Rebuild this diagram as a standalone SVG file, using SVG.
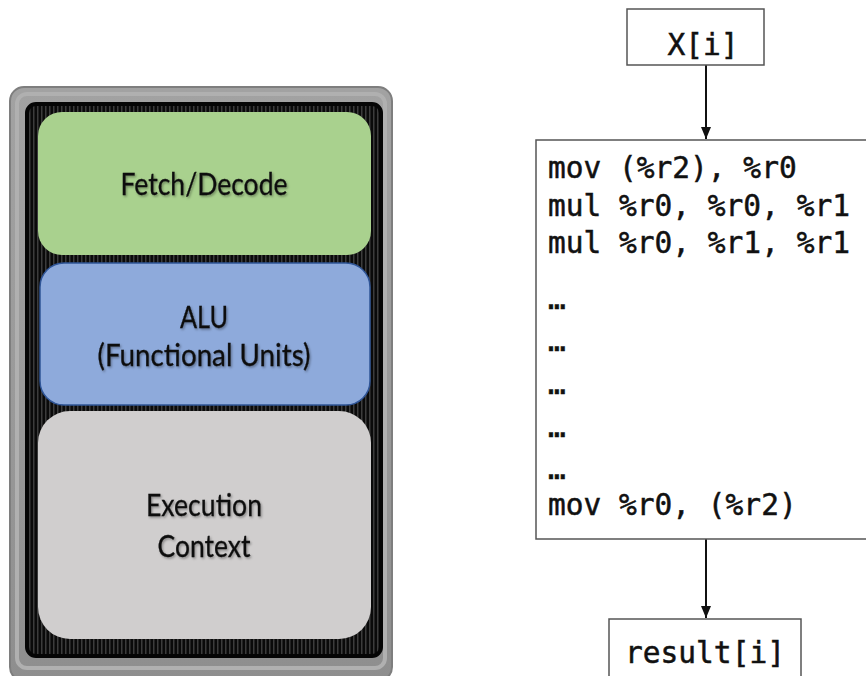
<svg xmlns="http://www.w3.org/2000/svg" width="866" height="676" viewBox="0 0 866 676">
  <defs>
    <linearGradient id="frameGrad" x1="0" y1="0" x2="0" y2="1">
      <stop offset="0" stop-color="#a2a2a2"/>
      <stop offset="0.5" stop-color="#9a9a9a"/>
      <stop offset="1" stop-color="#8e8e8e"/>
    </linearGradient>
    <pattern id="stripes" x="0" y="0" width="4" height="8" patternUnits="userSpaceOnUse">
      <rect x="0" y="0" width="4" height="8" fill="#0a0a0a"/>
      <rect x="1" y="0" width="1.5" height="8" fill="#3c3c3c"/>
    </pattern>
    <filter id="shadow" x="-10%" y="-20%" width="120%" height="150%">
      <feDropShadow dx="1.2" dy="1.5" stdDeviation="1" flood-color="#000" flood-opacity="0.35"/>
    </filter>
    <marker id="arrow" viewBox="0 0 12 10" refX="12" refY="5" markerWidth="12" markerHeight="10" markerUnits="userSpaceOnUse" orient="auto">
      <path d="M0,0 L12,5 L0,10 Z" fill="#111"/>
    </marker>
  </defs>
  <style>
    .lbl { font-family: Lato, "Open Sans", "Liberation Sans", sans-serif; font-size: 31px; fill: #111; stroke: #111; stroke-width: 0.3; text-anchor: middle; }
    .mono { font-family: "DejaVu Sans Mono", "Liberation Mono", monospace; font-size: 29.5px; fill: #111; stroke: #111; stroke-width: 0.5; }
    .box { fill: #ffffff; stroke: #555; stroke-width: 1.5; }
    .conn { stroke: #111; stroke-width: 2; fill: none; }
  </style>
  <rect width="866" height="676" fill="#ffffff"/>

  <g id="core">
    <rect x="10" y="87" width="382" height="594" rx="14" fill="url(#frameGrad)" stroke="#7e7e7e" stroke-width="2"/>
    <rect x="17" y="94" width="368" height="574" rx="10" fill="none" stroke="#b0b0b0" stroke-width="4"/>
    <rect x="27" y="104" width="354" height="552" rx="9" fill="url(#stripes)" stroke="#050505" stroke-width="4"/>
  </g>

  <g id="fetch-decode">
    <rect x="38" y="112" width="333" height="143" rx="24" fill="#a9d18e"/>
    <text class="lbl" x="204" y="195" textLength="167" lengthAdjust="spacingAndGlyphs" filter="url(#shadow)">Fetch/Decode</text>
  </g>

  <g id="alu">
    <rect x="40" y="263" width="330" height="142" rx="24" fill="#8eaadb" stroke="#2f5597" stroke-width="1.5"/>
    <text class="lbl" x="204" y="328" textLength="48" lengthAdjust="spacingAndGlyphs" filter="url(#shadow)">ALU</text>
    <text class="lbl" x="204" y="366" textLength="213" lengthAdjust="spacingAndGlyphs" filter="url(#shadow)">(Functional Units)</text>
  </g>

  <g id="exec-context">
    <rect x="38" y="411" width="333" height="228" rx="32" fill="#d0cece"/>
    <text class="lbl" x="204" y="516" textLength="116" lengthAdjust="spacingAndGlyphs" filter="url(#shadow)">Execution</text>
    <text class="lbl" x="204" y="557" textLength="93" lengthAdjust="spacingAndGlyphs" filter="url(#shadow)">Context</text>
  </g>

  <g id="connectors">
    <line class="conn" x1="706" y1="65" x2="706" y2="139" marker-end="url(#arrow)"/>
    <line class="conn" x1="706" y1="539" x2="706" y2="618" marker-end="url(#arrow)"/>
  </g>

  <g id="x-input">
    <rect class="box" x="627" y="9" width="137" height="56"/>
    <text class="mono" x="703" y="55" text-anchor="middle">X[i]</text>
  </g>

  <g id="code">
    <rect class="box" x="536" y="140" width="340" height="399"/>
    <text class="mono" x="548" y="178">mov (%r2), %r0</text>
    <text class="mono" x="548" y="216">mul %r0, %r0, %r1</text>
    <text class="mono" x="548" y="253">mul %r0, %r1, %r1</text>
    <text class="mono" x="548" y="309">…</text>
    <text class="mono" x="548" y="351">…</text>
    <text class="mono" x="548" y="394">…</text>
    <text class="mono" x="548" y="437">…</text>
    <text class="mono" x="548" y="479">…</text>
    <text class="mono" x="548" y="515">mov %r0, (%r2)</text>
  </g>

  <g id="result">
    <rect class="box" x="609" y="619" width="192" height="70"/>
    <text class="mono" x="705" y="663" text-anchor="middle">result[i]</text>
  </g>
</svg>
